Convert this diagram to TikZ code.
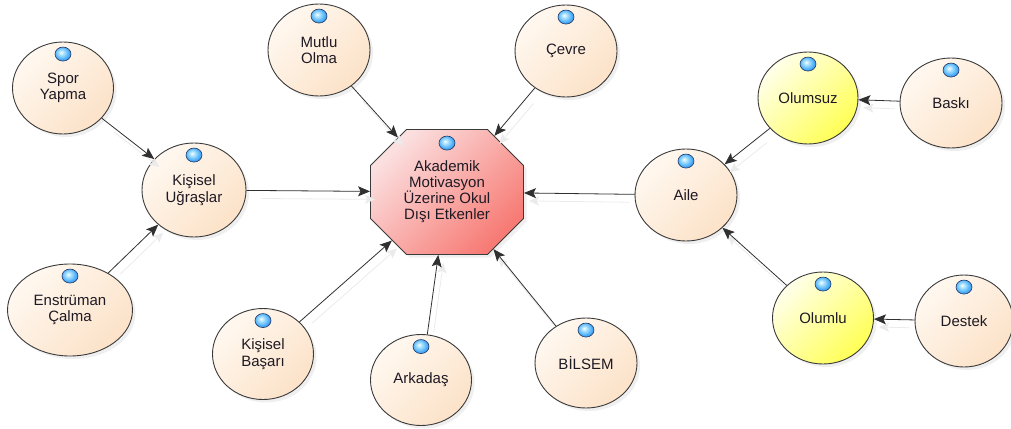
\documentclass[tikz,border=0pt]{standalone}
\usepackage{fontspec}
\setmainfont{Liberation Sans}
\usetikzlibrary{shapes.geometric,shapes.misc,arrows.meta,shadows}
\definecolor{edgecol}{HTML}{303030}
\definecolor{nodeline}{HTML}{3A3A3A}
\definecolor{textcol}{HTML}{1E1A24}
\definecolor{creamA}{HTML}{FFF8F0}
\definecolor{creamB}{HTML}{FCE2C8}
\definecolor{yelA}{HTML}{FFFFEA}
\definecolor{yelB}{HTML}{FFFF55}
\definecolor{pinkA}{HTML}{FBE0E0}
\definecolor{pinkB}{HTML}{F77A74}
\definecolor{iconlight}{HTML}{C4EEFF}
\definecolor{iconmid}{HTML}{4AAEFA}
\definecolor{icondark}{HTML}{1762DA}
\definecolor{iconrim}{HTML}{24365E}
% glossy status bullet, highlight towards the upper left
\pgfdeclareradialshading{bulletshade}{\pgfpoint{-6bp}{6bp}}{%
  color(0bp)=(white); color(5bp)=(iconlight); color(22bp)=(iconmid);
  color(42bp)=(icondark); color(70bp)=(icondark)}
\begin{document}
\begin{tikzpicture}[x=1pt,y=-1pt,
  bubble/.style={ellipse, draw=nodeline, line width=0.9pt, inner sep=0pt,
    align=center, font=\fontsize{15}{16.5}\selectfont, text=textcol,
    top color=creamA, bottom color=creamB, shading angle=45,
    drop shadow={shadow xshift=3pt, shadow yshift=-3pt, opacity=0.13}},
  yellowbubble/.style={bubble, top color=yelA, bottom color=yelB, shading angle=45},
  hub/.style={chamfered rectangle, chamfered rectangle sep=18pt,
    minimum width=153pt, minimum height=125pt, inner sep=0pt,
    draw=nodeline, line width=0.9pt, align=center,
    font=\fontsize{15}{16}\selectfont, text=textcol,
    top color=pinkA, bottom color=pinkB, shading angle=45,
    drop shadow={shadow xshift=3pt, shadow yshift=-3pt, opacity=0.13}},
  icon/.style={ellipse, minimum width=16pt, minimum height=14pt, inner sep=0pt,
    draw=iconrim, line width=0.6pt, shading=bulletshade},
  conn/.style={draw=edgecol, line width=0.8pt,
    -{Stealth[length=12pt, width=10pt, inset=2.5pt]}},
  ghost/.style={draw=black!8, line width=0.8pt,
    -{Stealth[length=10pt, width=9pt, inset=2pt]},
    transform canvas={shift={(5pt,-8pt)}}, shorten <=10pt}
]
\useasboundingbox (0,0) rectangle (1011,428);

% nodes
\node[hub] (oct) at (447,192) {Akademik\\Motivasyon\\Üzerine Okul\\Dışı Etkenler};
\node[bubble, minimum width=101pt, minimum height=92pt] (spor) at (63,88) {Spor\\Yapma};
\node[bubble, minimum width=104pt, minimum height=94pt] (ugras) at (194,190) {Kişisel\\Uğraşlar};
\node[bubble, minimum width=125pt, minimum height=92pt] (enst) at (70,310) {Enstrüman\\Çalma};
\node[bubble, minimum width=102pt, minimum height=92pt] (mutlu) at (319,50) {Mutlu\\Olma};
\node[bubble, minimum width=102pt, minimum height=92pt] (cevre) at (566,51) {Çevre};
\node[bubble, minimum width=101pt, minimum height=91pt] (basari) at (263,354) {Kişisel\\Başarı};
\node[bubble, minimum width=101pt, minimum height=91pt] (arkadas) at (421,380) {Arkadaş};
\node[bubble, minimum width=102pt, minimum height=90pt] (bilsem) at (586,363) {BİLSEM};
\node[bubble, minimum width=102pt, minimum height=92pt] (aile) at (686,195) {Aile};
\node[yellowbubble, minimum width=100pt, minimum height=92pt] (olumsuz) at (808,98) {Olumsuz};
\node[bubble, minimum width=102pt, minimum height=90pt] (baski) at (951,103) {Baskı};
\node[yellowbubble, minimum width=101pt, minimum height=92pt] (olumlu) at (823,318) {Olumlu};
\node[bubble, minimum width=98pt, minimum height=92pt] (destek) at (964,321) {Destek};

% faint connector shadows
\foreach \a/\b in {spor/ugras, enst/ugras, ugras/oct, mutlu/oct, cevre/oct,
    basari/oct, arkadas/oct, bilsem/oct, aile/oct, olumsuz/aile, olumlu/aile,
    baski/olumsuz, destek/olumlu}
  \draw[ghost] (\a) -- (\b);

% connectors
\foreach \a/\b in {spor/ugras, enst/ugras, ugras/oct, mutlu/oct, cevre/oct,
    basari/oct, arkadas/oct, bilsem/oct, aile/oct, olumsuz/aile, olumlu/aile,
    baski/olumsuz, destek/olumlu}
  \draw[conn] (\a) -- (\b);

% status icons
\foreach \n in {spor,ugras,enst,mutlu,cevre,basari,arkadas,bilsem,aile,
    olumsuz,baski,olumlu,destek}
  \node[icon] at ([yshift=-12.5pt]\n.north) {};
\node[icon] at ([yshift=-14pt]oct.north) {};
\end{tikzpicture}
\end{document}
